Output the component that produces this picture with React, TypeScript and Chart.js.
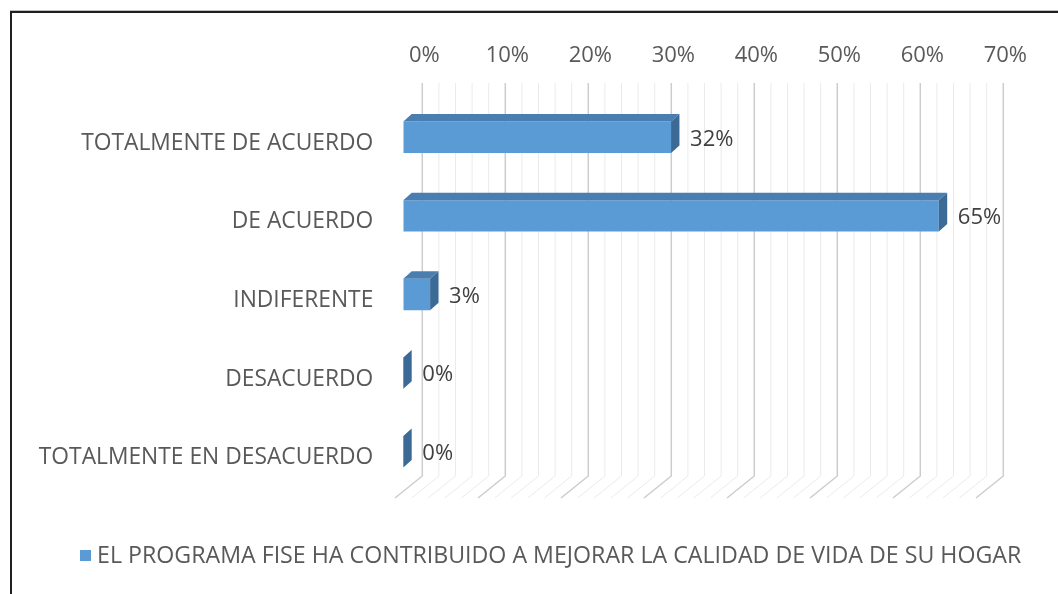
import React, { useEffect, useRef } from "react";
import { Chart, registerables } from "chart.js";

Chart.register(...registerables);

// ---------- data ----------
const categories: string[] = [
  "TOTALMENTE DE ACUERDO",
  "DE ACUERDO",
  "INDIFERENTE",
  "DESACUERDO",
  "TOTALMENTE EN DESACUERDO",
];
const values: number[] = [32.26, 64.52, 3.23, 0, 0];
const seriesLabel = "EL PROGRAMA FISE HA CONTRIBUIDO A MEJORAR LA CALIDAD DE VIDA DE SU HOGAR";
const xMin = 0;
const xMax = 70;
const majorStep = 10;
const minorStep = 2;

// ---------- style ----------
const FONT = "'Open Sans', sans-serif";
const FONT_SIZE = 22;
const CAT_FONT_SIZE = 22.8;
const LEGEND_FONT_SIZE = 23.2;
const TEXT = "#595959";
const FRONT = "#5B9BD5";
const TOP_FACE = "#4A7EB0";
const SIDE_FACE = "#3C6A96";
const DEPTH_X = 8.4;
const DEPTH_Y = 7.5;
const WALL_X = 19;
const WALL_Y = 15;
const FLOOR_X = 8.3;
const FLOOR_Y = 7;

const framePlugin = {
  id: "frame",
  beforeDraw(chart: any) {
    const { ctx, width, height } = chart;
    ctx.save();
    ctx.fillStyle = "#ffffff";
    ctx.fillRect(0, 0, width, height);
    ctx.fillStyle = "#bdbdbd";
    ctx.fillRect(10, 10, width - 10, 1);
    ctx.fillStyle = "#1f1f1f";
    ctx.fillRect(10, 11, width - 10, 2);
    ctx.fillRect(10, 11, 2, height - 11);
    ctx.restore();
  },
};

const wallPlugin = {
  id: "wall3d",
  beforeDatasetsDraw(chart: any) {
    const { ctx, chartArea, scales } = chart;
    const x = scales.x;
    ctx.save();
    for (let v = xMin; v <= xMax; v += minorStep) {
      const px = x.getPixelForValue(v);
      const major = v % majorStep === 0;
      ctx.strokeStyle = major ? "#cdcdcd" : "#ebebeb";
      ctx.lineWidth = major ? 1.5 : 1;
      ctx.beginPath();
      ctx.moveTo(px + WALL_X, chartArea.top - WALL_Y);
      ctx.lineTo(px + WALL_X, chartArea.bottom - WALL_Y);
      ctx.lineTo(px - FLOOR_X, chartArea.bottom + FLOOR_Y);
      ctx.stroke();
    }
    ctx.restore();
  },
};

const barPlugin = {
  id: "bar3d",
  afterDatasetsDraw(chart: any) {
    const { ctx } = chart;
    const meta = chart.getDatasetMeta(0);
    const ds = chart.data.datasets[0];
    ctx.save();
    meta.data.forEach((el: any, i: number) => {
      const { x, y, base, height } = el.getProps(["x", "y", "base", "height"], true);
      const top = y - height / 2;
      const bottom = y + height / 2;
      if (x - base > 0.5) {
        ctx.fillStyle = TOP_FACE;
        ctx.beginPath();
        ctx.moveTo(base, top);
        ctx.lineTo(x, top);
        ctx.lineTo(x + DEPTH_X, top - DEPTH_Y);
        ctx.lineTo(base + DEPTH_X, top - DEPTH_Y);
        ctx.closePath();
        ctx.fill();
      }
      ctx.fillStyle = SIDE_FACE;
      ctx.beginPath();
      ctx.moveTo(x, top);
      ctx.lineTo(x + DEPTH_X, top - DEPTH_Y);
      ctx.lineTo(x + DEPTH_X, bottom - DEPTH_Y);
      ctx.lineTo(x, bottom);
      ctx.closePath();
      ctx.fill();
      const v = ds.data[i] as number;
      ctx.fillStyle = "#404040";
      ctx.font = `${FONT_SIZE}px ${FONT}`;
      ctx.textAlign = "left";
      ctx.textBaseline = "middle";
      ctx.fillText(`${Math.round(v)}%`, x + 19, y + 2);
    });
    ctx.restore();
  },
};

const legendPlugin = {
  id: "legendCustom",
  afterDraw(chart: any) {
    const { ctx } = chart;
    const ds = chart.data.datasets[0];
    ctx.save();
    ctx.fillStyle = ds.backgroundColor as string;
    ctx.fillRect(80, 550, 11, 11);
    ctx.fillStyle = TEXT;
    ctx.font = `${LEGEND_FONT_SIZE}px ${FONT}`;
    ctx.textAlign = "left";
    ctx.textBaseline = "middle";
    ctx.fillText(ds.label, 97, 556);
    ctx.restore();
  },
};

export default function App() {
  const canvasRef = useRef<HTMLCanvasElement | null>(null);

  useEffect(() => {
    if (!canvasRef.current) return;
    const chart = new Chart(canvasRef.current, {
      type: "bar",
      data: {
        labels: categories,
        datasets: [
          {
            label: seriesLabel,
            data: values,
            backgroundColor: FRONT,
            borderWidth: 0,
            categoryPercentage: 1,
            barPercentage: 0.4,
          },
        ],
      },
      options: {
        indexAxis: "y",
        animation: false,
        responsive: true,
        maintainAspectRatio: false,
        layout: { padding: { left: 0, right: 73.7, top: 0, bottom: 103 } },
        plugins: {
          legend: { display: false },
          tooltip: { enabled: false },
        },
        scales: {
          x: {
            position: "top",
            min: xMin,
            max: xMax,
            grid: { display: false, drawTicks: false },
            border: { display: false },
            ticks: {
              stepSize: majorStep,
              callback: (v: any) => `${v}%`,
              labelOffset: WALL_X + 2,
              padding: 29.3,
              color: TEXT,
              font: { family: FONT, size: FONT_SIZE },
              maxRotation: 0,
            },
            afterFit: (s: any) => {
              s.height = 98;
            },
          },
          y: {
            grid: { display: false, drawTicks: false },
            border: { display: false },
            ticks: {
              padding: 30,
              labelOffset: 6,
              color: TEXT,
              font: { family: FONT, size: CAT_FONT_SIZE },
            },
            afterFit: (s: any) => {
              s.width = 403.3;
            },
          },
        },
      },
      plugins: [framePlugin, wallPlugin, barPlugin, legendPlugin],
    } as any);
    return () => chart.destroy();
  }, []);

  return (
    <div style={{ position: "absolute", left: 0, top: 0, width: 1058, height: 594 }}>
      <canvas ref={canvasRef} />
    </div>
  );
}
